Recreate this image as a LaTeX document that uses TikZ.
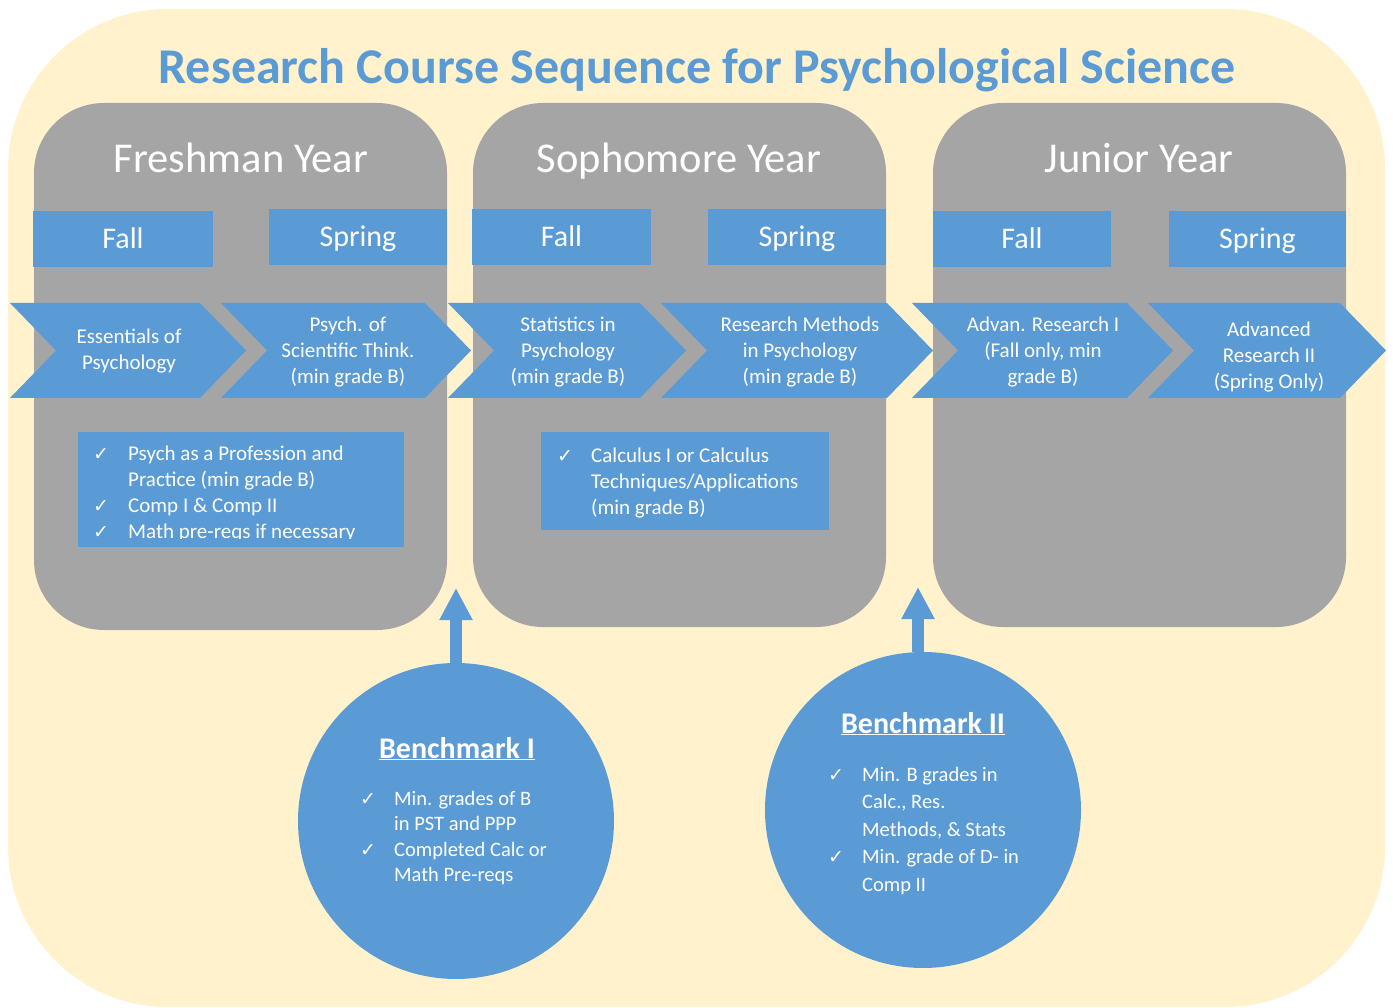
\documentclass[tikz,border=0pt]{standalone}
\usepackage{fontspec}
\setmainfont{Carlito}
\newfontfamily\dejavu{DejaVu Sans}
\usetikzlibrary{arrows.meta,calc}
\definecolor{cream}{HTML}{FFF2CC}
\definecolor{panelgray}{HTML}{A5A5A5}
\definecolor{accent}{HTML}{5B9BD5}
\newcommand\ck{{\dejavu\bfseries\fontsize{19}{20}\selectfont ✓}}
\newcommand\mychev[2]{\fill[accent] (#1,303) -- (#2,303) -- ($(#2,350.5)+(46,0)$) -- (#2,398) -- (#1,398) -- ($(#1,350.5)+(46,0)$) -- cycle;}
\tikzset{
  panel/.style={fill=panelgray, rounded corners=70pt, inner sep=0pt},
  yeartitle/.style={text=white, font=\fontsize{42.5}{48}\selectfont, inner sep=0pt, anchor=base},
  semester/.style={fill=accent, text=white, font=\fontsize{30}{36}\selectfont, inner sep=0pt, minimum height=56pt, text height=20pt, text depth=0pt},
  course/.style={text=white, font=\fontsize{21}{26}\selectfont, align=center, inner sep=0pt},
  checklist/.style={text=white, inner sep=0pt, anchor=base west},
  bench/.style={circle, fill=accent, inner sep=0pt, minimum size=316pt},
  benchtitle/.style={text=white, font=\bfseries\fontsize{30}{34}\selectfont, inner sep=0pt, anchor=base},
  blockarrow/.style={draw=accent, line width=12pt, -{Triangle[width=31pt,length=32pt]}}
}
\begin{document}
\begin{tikzpicture}[x=1pt,y=-1pt]
\useasboundingbox (0,0) rectangle (1393,1008);
\fill[white] (0,0) rectangle (1393,1008);
\fill[cream, rounded corners=160pt] (8,9) rectangle (1385,1007);

% title
\node[text=accent, font=\bfseries\fontsize{50}{56}\selectfont, inner sep=0pt, anchor=base] (title) at (697,84) {Research Course Sequence for Psychological Science};

% panels
\node[panel, minimum width=413pt, minimum height=527pt] (p1) at (240.5,366.5) {};
\node[panel, minimum width=413pt, minimum height=524pt] (p2) at (679.5,365) {};
\node[panel, minimum width=413pt, minimum height=524pt] (p3) at (1139.5,365) {};

\node[yeartitle] (y1) at (241,173) {Freshman Year};
\node[yeartitle] (y2) at (679,173) {Sophomore Year};
\node[yeartitle] (y3) at (1139,173) {Junior Year};

% semesters
\node[semester, minimum width=180pt] (f1) at (123,239) {Fall};
\node[semester, minimum width=178pt] (s1) at (358,237) {Spring};
\node[semester, minimum width=179pt] (f2) at (561.5,237) {Fall};
\node[semester, minimum width=178pt] (s2) at (797,237) {Spring};
\node[semester, minimum width=178pt] (f3) at (1022,239) {Fall};
\node[semester, minimum width=177pt] (s3) at (1257.5,239) {Spring};

% chevrons
\mychev{10}{200}
\mychev{221}{425}
\mychev{448}{640}
\mychev{661}{887}
\mychev{912}{1127}
\mychev{1148}{1340}

\node[course] (c1) at (129,351) {Essentials of\\Psychology};
\node[course] (c2) at (348,352) {Psych. of\\Scientific Think.\\(min grade B)};
\node[course] (c3) at (568,352) {Statistics in\\Psychology\\(min grade B)};
\node[course] (c4) at (800,352) {Research Methods\\in Psychology\\(min grade B)};
\node[course] (c5) at (1043,352) {Advan. Research I\\(Fall only, min\\grade B)};
\node[course] (c6) at (1269,357) {Advanced\\Research II\\(Spring Only)};

% checklist boxes
\node[fill=accent, minimum width=326pt, minimum height=115pt, inner sep=0pt] (r1) at (241,489.5) {};
\begin{scope}
\clip (78,432) rectangle (404,538);
\node[checklist, font=\fontsize{21}{26}\selectfont] (t1) at (93,460) {\begin{tabular}[t]{@{}p{35pt}@{}l@{}}
\ck & Psych as a Profession and\\
 & Practice (min grade B)\\
\ck & Comp I \& Comp II\\
\ck & Math pre-reqs if necessary
\end{tabular}};
\end{scope}

\node[fill=accent, minimum width=288pt, minimum height=98pt, inner sep=0pt] (r2) at (685,481) {};
\node[checklist, font=\fontsize{21}{26}\selectfont] (t2) at (557,462) {\begin{tabular}[t]{@{}p{34pt}@{}l@{}}
\ck & Calculus I or Calculus\\
 & Techniques/Applications\\
 & (min grade B)
\end{tabular}};

% benchmarks
\node[bench] (b1) at (456,821) {};
\node[bench] (b2) at (923,810) {};

\coordinate (tip1) at (456,588);
\coordinate (tip2) at (918,587);
\draw[blockarrow] (b1.north) -- (tip1);
\draw[blockarrow] (b2.north -| tip2) -- (tip2);

\node[benchtitle] (bt1) at (457,758) {\underline{Benchmark I}};
\node[checklist, font=\fontsize{20.5}{25.5}\selectfont] (bl1) at (360,805) {\begin{tabular}[t]{@{}p{34pt}@{}l@{}}
\ck & Min. grades of B\\
 & in PST and PPP\\
\ck & Completed Calc or\\
 & Math Pre-reqs
\end{tabular}};

\node[benchtitle] (bt2) at (923,733) {\underline{Benchmark II}};
\node[checklist, font=\fontsize{20.5}{27.5}\selectfont] (bl2) at (828,781) {\begin{tabular}[t]{@{}p{34pt}@{}l@{}}
\ck & Min. B grades in\\
 & Calc., Res.\\
 & Methods, \& Stats\\
\ck & Min. grade of D- in\\
 & Comp II
\end{tabular}};
\end{tikzpicture}
\end{document}
